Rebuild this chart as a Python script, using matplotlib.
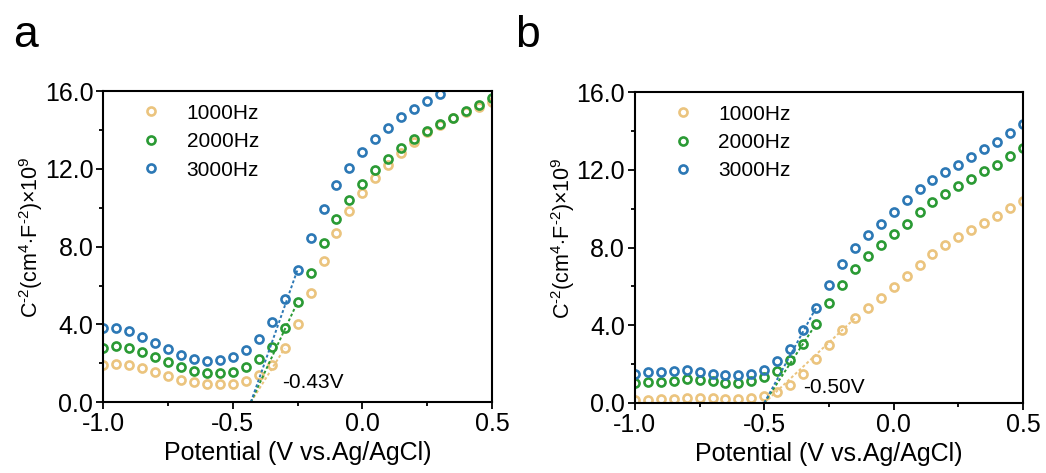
import matplotlib.pyplot as plt
import numpy as np
from matplotlib.ticker import MultipleLocator, FormatStrFormatter

plt.rcParams['font.family'] = ['Liberation Sans', 'DejaVu Sans']
plt.rcParams['mathtext.fontset'] = 'custom'
plt.rcParams['mathtext.rm'] = 'Liberation Sans'
plt.rcParams['mathtext.it'] = 'Liberation Sans:italic'

potential = np.round(np.arange(-1.0, 0.501, 0.05), 2)

# panel a
a_1000 = [1.89, 1.94, 1.91, 1.77, 1.56, 1.36, 1.15, 1.01, 0.93, 0.91, 0.94, 1.06, 1.37,
          1.92, 2.76, 4.02, 5.61, 7.24, 8.70, 9.84, 10.76, 11.52, 12.22, 12.82, 13.39,
          13.90, 14.28, 14.60, 14.93, 15.20, 15.45]
a_2000 = [2.78, 2.87, 2.80, 2.58, 2.33, 2.04, 1.80, 1.60, 1.49, 1.48, 1.55, 1.79, 2.21,
          2.83, 3.81, 5.15, 6.66, 8.17, 9.42, 10.40, 11.23, 11.93, 12.52, 13.06, 13.55,
          13.94, 14.33, 14.64, 14.97, 15.28, 15.67]
a_3000 = [3.83, 3.83, 3.64, 3.33, 3.02, 2.73, 2.40, 2.23, 2.13, 2.15, 2.32, 2.66, 3.26,
          4.10, 5.29, 6.82, 8.45, 9.96, 11.16, 12.07, 12.86, 13.53, 14.13, 14.66, 15.11,
          15.52, 15.88]

# panel b
b_1000 = [0.14, 0.17, 0.19, 0.22, 0.27, 0.26, 0.24, 0.22, 0.22, 0.26, 0.38, 0.57, 0.95,
          1.49, 2.27, 3.01, 3.75, 4.36, 4.90, 5.41, 5.96, 6.53, 7.11, 7.68, 8.13, 8.54,
          8.93, 9.28, 9.64, 10.02, 10.38]
b_2000 = [1.03, 1.08, 1.08, 1.15, 1.24, 1.19, 1.12, 1.05, 1.05, 1.12, 1.32, 1.67, 2.22,
          3.04, 4.07, 5.15, 6.08, 6.91, 7.58, 8.14, 8.68, 9.23, 9.81, 10.33, 10.76, 11.17,
          11.55, 11.92, 12.27, 12.71, 13.14]
b_3000 = [1.48, 1.58, 1.58, 1.63, 1.70, 1.62, 1.49, 1.43, 1.43, 1.48, 1.68, 2.15, 2.78,
          3.75, 4.90, 6.10, 7.18, 7.99, 8.66, 9.24, 9.85, 10.43, 11.00, 11.48, 11.91, 12.25,
          12.68, 13.06, 13.45, 13.92, 14.38]

labels = ["1000Hz", "2000Hz", "3000Hz"]
colors = ["#EBC47E", "#2A9A34", "#2C78B5"]

# linear fits: x-intercept and last potential of fitted segment
fit_a = {"intercept": -0.43, "ends": [-0.30, -0.25, -0.25]}
fit_b = {"intercept": -0.50, "ends": [-0.15, -0.30, -0.30]}


def draw_panel(ax, series, fit, text, text_xy):
    for y, lab, c in zip(series, labels, colors):
        ax.plot(potential[:len(y)], y, linestyle='none', marker='o', ms=5.8,
                mfc='none', mec=c, mew=1.9, label=lab)
    for y, c, end in zip(series, colors, fit["ends"]):
        idx = int(np.argmin(np.abs(potential - end)))
        ax.plot([fit["intercept"], potential[idx]], [0, y[idx]], color=c,
                lw=1.4, linestyle=(0, (1.5, 1.2)))
    ax.text(text_xy[0], text_xy[1], text, fontsize=15, va='center', ha='left')

    ax.set_xlim(-1.0, 0.5)
    ax.set_ylim(0, 16)
    ax.xaxis.set_major_locator(MultipleLocator(0.5))
    ax.xaxis.set_minor_locator(MultipleLocator(0.25))
    ax.yaxis.set_major_locator(MultipleLocator(4))
    ax.yaxis.set_minor_locator(MultipleLocator(2))
    ax.xaxis.set_major_formatter(FormatStrFormatter('%.1f'))
    ax.yaxis.set_major_formatter(FormatStrFormatter('%.1f'))
    ax.tick_params(which='major', direction='out', length=5, width=1.3, labelsize=18, pad=2)
    ax.tick_params(which='minor', direction='out', length=3, width=1.3)
    for s in ax.spines.values():
        s.set_linewidth(1.5)

    ax.set_xlabel("Potential (V vs.Ag/AgCl)", fontsize=18, labelpad=4)
    ax.set_ylabel(r"C$^{\text{-2}}$(cm$^{4}$$\cdot$F$^{\text{-2}}$)$\times$10$^{9}$", fontsize=15.5)
    ax.yaxis.set_label_coords(-0.15, 0.53)
    ax.legend(loc='upper left', bbox_to_anchor=(0.065, 1.0), frameon=False, fontsize=15,
              handlelength=1.0, handletextpad=1.2, labelspacing=0.45, borderaxespad=0.2)


fig = plt.figure(figsize=(10.46, 4.73), dpi=100)
ax_a = fig.add_axes([0.0985, 0.150, 0.372, 0.657])
ax_b = fig.add_axes([0.607, 0.148, 0.371, 0.657])

draw_panel(ax_a, [a_1000, a_2000, a_3000], fit_a, "-0.43V", (-0.31, 1.0))
draw_panel(ax_b, [b_1000, b_2000, b_3000], fit_b, "-0.50V", (-0.35, 0.8))

fig.text(13 / 1046, 1 - 47 / 473, "a", fontsize=32, va='baseline', ha='left')
fig.text(515 / 1046, 1 - 47 / 473, "b", fontsize=32, va='baseline', ha='left')

fig.savefig("out.png", dpi=100, facecolor='white')
